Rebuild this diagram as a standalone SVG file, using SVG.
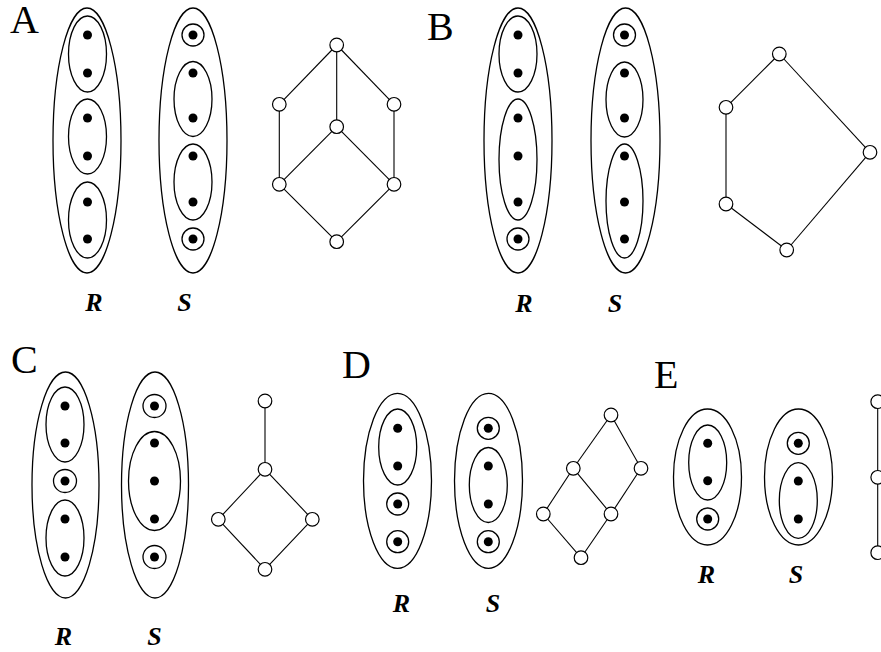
<svg xmlns="http://www.w3.org/2000/svg" width="881" height="652" viewBox="0 0 881 652">
  <style>
    .ring { fill: none; stroke: #000; stroke-width: 1.3; }
    .dot { fill: #000; }
    .node { fill: #fff; stroke: #000; stroke-width: 1.2; }
    .edge { stroke: #000; stroke-width: 1.1; fill: none; }
    .panel { font-family: "Liberation Serif", "Times New Roman", serif; font-size: 40px; fill: #000; }
    .lbl { font-family: "Liberation Serif", "Times New Roman", serif; font-size: 26px; font-style: italic; font-weight: bold; fill: #000; text-anchor: middle; }
  </style>
  <rect width="881" height="652" fill="#fff"/>

  <!-- panel letters -->
  <text class="panel" x="10" y="33">A</text>
  <text class="panel" x="427" y="40">B</text>
  <text class="panel" x="11" y="373">C</text>
  <text class="panel" x="342" y="378">D</text>
  <text class="panel" x="654" y="388">E</text>

  <!-- ===== Panel A ===== -->
  <g id="A-R">
    <ellipse class="ring" cx="87" cy="140.5" rx="34" ry="132.5"/>
    <ellipse class="ring" cx="87.5" cy="54" rx="19" ry="38"/>
    <ellipse class="ring" cx="87.5" cy="136.5" rx="19" ry="37.5"/>
    <ellipse class="ring" cx="87.5" cy="220" rx="19" ry="38"/>
    <circle class="dot" cx="87.5" cy="35" r="4.5"/>
    <circle class="dot" cx="87.5" cy="73" r="4.5"/>
    <circle class="dot" cx="87.5" cy="118" r="4.5"/>
    <circle class="dot" cx="87.5" cy="156" r="4.5"/>
    <circle class="dot" cx="87.5" cy="202" r="4.5"/>
    <circle class="dot" cx="87.5" cy="239" r="4.5"/>
    <text class="lbl" x="94" y="311">R</text>
  </g>
  <g id="A-S">
    <ellipse class="ring" cx="193" cy="140.5" rx="34" ry="132.5"/>
    <circle class="ring" cx="193" cy="35" r="11"/>
    <ellipse class="ring" cx="193" cy="99" rx="19" ry="37.5"/>
    <ellipse class="ring" cx="193" cy="182" rx="19" ry="38"/>
    <circle class="ring" cx="193" cy="239" r="11"/>
    <circle class="dot" cx="193" cy="35" r="4.5"/>
    <circle class="dot" cx="193" cy="73" r="4.5"/>
    <circle class="dot" cx="193" cy="118" r="4.5"/>
    <circle class="dot" cx="193" cy="156" r="4.5"/>
    <circle class="dot" cx="193" cy="202" r="4.5"/>
    <circle class="dot" cx="193" cy="239" r="4.5"/>
    <text class="lbl" x="184.5" y="311">S</text>
  </g>

  <!-- ===== Panel B ===== -->
  <g id="B-R">
    <ellipse class="ring" cx="518" cy="140.5" rx="34" ry="132.5"/>
    <ellipse class="ring" cx="518" cy="54" rx="19" ry="38"/>
    <ellipse class="ring" cx="518" cy="159.5" rx="19" ry="60.5"/>
    <circle class="ring" cx="518" cy="239" r="11"/>
    <circle class="dot" cx="518" cy="35" r="4.5"/>
    <circle class="dot" cx="518" cy="73" r="4.5"/>
    <circle class="dot" cx="518" cy="118" r="4.5"/>
    <circle class="dot" cx="518" cy="156" r="4.5"/>
    <circle class="dot" cx="518" cy="202" r="4.5"/>
    <circle class="dot" cx="518" cy="239" r="4.5"/>
    <text class="lbl" x="524" y="311.5">R</text>
  </g>
  <g id="B-S">
    <ellipse class="ring" cx="625.5" cy="140.5" rx="34.5" ry="132.5"/>
    <circle class="ring" cx="624.5" cy="35" r="11"/>
    <ellipse class="ring" cx="624.5" cy="99.5" rx="18.5" ry="37.5"/>
    <ellipse class="ring" cx="624.5" cy="201" rx="18.5" ry="57"/>
    <circle class="dot" cx="624.5" cy="35" r="4.5"/>
    <circle class="dot" cx="624.5" cy="73" r="4.5"/>
    <circle class="dot" cx="624.5" cy="118" r="4.5"/>
    <circle class="dot" cx="624.5" cy="156" r="4.5"/>
    <circle class="dot" cx="624.5" cy="202" r="4.5"/>
    <circle class="dot" cx="624.5" cy="239" r="4.5"/>
    <text class="lbl" x="615" y="311.5">S</text>
  </g>

  <!-- ===== Panel C ===== -->
  <g id="C-R">
    <ellipse class="ring" cx="65.5" cy="485" rx="33.5" ry="113"/>
    <ellipse class="ring" cx="65" cy="424.5" rx="19" ry="37.5"/>
    <circle class="ring" cx="65" cy="481" r="11.5"/>
    <ellipse class="ring" cx="65" cy="538" rx="19" ry="38"/>
    <circle class="dot" cx="65" cy="406" r="4.5"/>
    <circle class="dot" cx="65" cy="443" r="4.5"/>
    <circle class="dot" cx="65" cy="481" r="4.5"/>
    <circle class="dot" cx="65" cy="519" r="4.5"/>
    <circle class="dot" cx="65" cy="557" r="4.5"/>
    <text class="lbl" x="63.5" y="645">R</text>
  </g>
  <g id="C-S">
    <ellipse class="ring" cx="155" cy="485" rx="33.5" ry="113"/>
    <circle class="ring" cx="154.5" cy="406" r="11.5"/>
    <ellipse class="ring" cx="154.5" cy="481" rx="26" ry="49.5"/>
    <circle class="ring" cx="154.5" cy="557" r="11.5"/>
    <circle class="dot" cx="154.5" cy="406" r="4.5"/>
    <circle class="dot" cx="154.5" cy="443" r="4.5"/>
    <circle class="dot" cx="154.5" cy="481" r="4.5"/>
    <circle class="dot" cx="154.5" cy="519" r="4.5"/>
    <circle class="dot" cx="154.5" cy="557" r="4.5"/>
    <text class="lbl" x="154.5" y="645">S</text>
  </g>

  <!-- ===== Panel D ===== -->
  <g id="D-R">
    <ellipse class="ring" cx="397.5" cy="480.8" rx="34" ry="87.5"/>
    <ellipse class="ring" cx="397.7" cy="447" rx="19" ry="38"/>
    <circle class="ring" cx="397.7" cy="504" r="11"/>
    <circle class="ring" cx="397.7" cy="541.7" r="11"/>
    <circle class="dot" cx="397.7" cy="428.3" r="4.5"/>
    <circle class="dot" cx="397.7" cy="466" r="4.5"/>
    <circle class="dot" cx="397.7" cy="504" r="4.5"/>
    <circle class="dot" cx="397.7" cy="541.7" r="4.5"/>
    <text class="lbl" x="401.5" y="612">R</text>
  </g>
  <g id="D-S">
    <ellipse class="ring" cx="488.5" cy="480.8" rx="34" ry="87.5"/>
    <circle class="ring" cx="488.3" cy="428.3" r="11"/>
    <ellipse class="ring" cx="488.3" cy="485" rx="19" ry="37.5"/>
    <circle class="ring" cx="488.3" cy="541.7" r="11"/>
    <circle class="dot" cx="488.3" cy="428.3" r="4.5"/>
    <circle class="dot" cx="488.3" cy="466" r="4.5"/>
    <circle class="dot" cx="488.3" cy="504" r="4.5"/>
    <circle class="dot" cx="488.3" cy="541.7" r="4.5"/>
    <text class="lbl" x="493" y="612">S</text>
  </g>

  <!-- ===== Panel E ===== -->
  <g id="E-R">
    <ellipse class="ring" cx="707.5" cy="477" rx="34" ry="68"/>
    <ellipse class="ring" cx="707.7" cy="462.5" rx="19" ry="37.5"/>
    <circle class="ring" cx="707.7" cy="519" r="11"/>
    <circle class="dot" cx="707.7" cy="443.3" r="4.5"/>
    <circle class="dot" cx="707.7" cy="480.7" r="4.5"/>
    <circle class="dot" cx="707.7" cy="519" r="4.5"/>
    <text class="lbl" x="706.5" y="582.5">R</text>
  </g>
  <g id="E-S">
    <ellipse class="ring" cx="798.5" cy="477" rx="34" ry="68"/>
    <circle class="ring" cx="798.3" cy="443.3" r="11"/>
    <ellipse class="ring" cx="798.3" cy="500.5" rx="19" ry="37.8"/>
    <circle class="dot" cx="798.3" cy="443.3" r="4.5"/>
    <circle class="dot" cx="798.3" cy="481" r="4.5"/>
    <circle class="dot" cx="798.3" cy="519" r="4.5"/>
    <text class="lbl" x="796" y="582.5">S</text>
  </g>

  <!-- lattice edges -->
  <g id="connectors" class="edge">
    <!-- A -->
    <line x1="336.7" y1="45" x2="279.3" y2="104.3"/>
    <line x1="336.7" y1="45" x2="336.7" y2="126.7"/>
    <line x1="336.7" y1="45" x2="394" y2="104.3"/>
    <line x1="279.3" y1="104.3" x2="279.3" y2="184.3"/>
    <line x1="394" y1="104.3" x2="394" y2="184.3"/>
    <line x1="336.7" y1="126.7" x2="279.3" y2="184.3"/>
    <line x1="336.7" y1="126.7" x2="394" y2="184.3"/>
    <line x1="279.3" y1="184.3" x2="336.7" y2="241.7"/>
    <line x1="394" y1="184.3" x2="336.7" y2="241.7"/>
    <!-- B -->
    <line x1="779.3" y1="54" x2="726" y2="107.3"/>
    <line x1="779.3" y1="54" x2="870" y2="152.3"/>
    <line x1="726" y1="107.3" x2="726" y2="204"/>
    <line x1="726" y1="204" x2="786.7" y2="250"/>
    <line x1="870" y1="152.3" x2="786.7" y2="250"/>
    <!-- C -->
    <line x1="265" y1="401" x2="265" y2="469.3"/>
    <line x1="265" y1="469.3" x2="218.3" y2="519.3"/>
    <line x1="265" y1="469.3" x2="312.3" y2="519.3"/>
    <line x1="218.3" y1="519.3" x2="265" y2="569.3"/>
    <line x1="312.3" y1="519.3" x2="265" y2="569.3"/>
    <!-- D -->
    <line x1="611" y1="415" x2="573.3" y2="468.3"/>
    <line x1="611" y1="415" x2="641" y2="468.3"/>
    <line x1="573.3" y1="468.3" x2="543.3" y2="514"/>
    <line x1="573.3" y1="468.3" x2="611" y2="514"/>
    <line x1="641" y1="468.3" x2="611" y2="514"/>
    <line x1="543.3" y1="514" x2="581" y2="557.7"/>
    <line x1="611" y1="514" x2="581" y2="557.7"/>
    <!-- E -->
    <line x1="877.7" y1="401.7" x2="877.7" y2="552.7"/>
  </g>

  <!-- lattice nodes -->
  <g id="lattice-A">
    <circle id="A-n1" class="node" cx="336.7" cy="45" r="6.8"/>
    <circle id="A-n2" class="node" cx="279.3" cy="104.3" r="6.8"/>
    <circle id="A-n3" class="node" cx="394" cy="104.3" r="6.8"/>
    <circle id="A-n4" class="node" cx="336.7" cy="126.7" r="6.8"/>
    <circle id="A-n5" class="node" cx="279.3" cy="184.3" r="6.8"/>
    <circle id="A-n6" class="node" cx="394" cy="184.3" r="6.8"/>
    <circle id="A-n7" class="node" cx="336.7" cy="241.7" r="6.8"/>
  </g>
  <g id="lattice-B">
    <circle id="B-n1" class="node" cx="779.3" cy="54" r="6.8"/>
    <circle id="B-n2" class="node" cx="726" cy="107.3" r="6.8"/>
    <circle id="B-n3" class="node" cx="870" cy="152.3" r="6.8"/>
    <circle id="B-n4" class="node" cx="726" cy="204" r="6.8"/>
    <circle id="B-n5" class="node" cx="786.7" cy="250" r="6.8"/>
  </g>
  <g id="lattice-C">
    <circle id="C-n1" class="node" cx="265" cy="401" r="6.8"/>
    <circle id="C-n2" class="node" cx="265" cy="469.3" r="6.8"/>
    <circle id="C-n3" class="node" cx="218.3" cy="519.3" r="6.8"/>
    <circle id="C-n4" class="node" cx="312.3" cy="519.3" r="6.8"/>
    <circle id="C-n5" class="node" cx="265" cy="569.3" r="6.8"/>
  </g>
  <g id="lattice-D">
    <circle id="D-n1" class="node" cx="611" cy="415" r="6.8"/>
    <circle id="D-n2" class="node" cx="573.3" cy="468.3" r="6.8"/>
    <circle id="D-n3" class="node" cx="641" cy="468.3" r="6.8"/>
    <circle id="D-n4" class="node" cx="543.3" cy="514" r="6.8"/>
    <circle id="D-n5" class="node" cx="611" cy="514" r="6.8"/>
    <circle id="D-n6" class="node" cx="581" cy="557.7" r="6.8"/>
  </g>
  <g id="lattice-E">
    <circle id="E-n1" class="node" cx="877.7" cy="401.7" r="6.8"/>
    <circle id="E-n2" class="node" cx="877.7" cy="477.3" r="6.8"/>
    <circle id="E-n3" class="node" cx="877.7" cy="552.7" r="6.8"/>
  </g>
</svg>
